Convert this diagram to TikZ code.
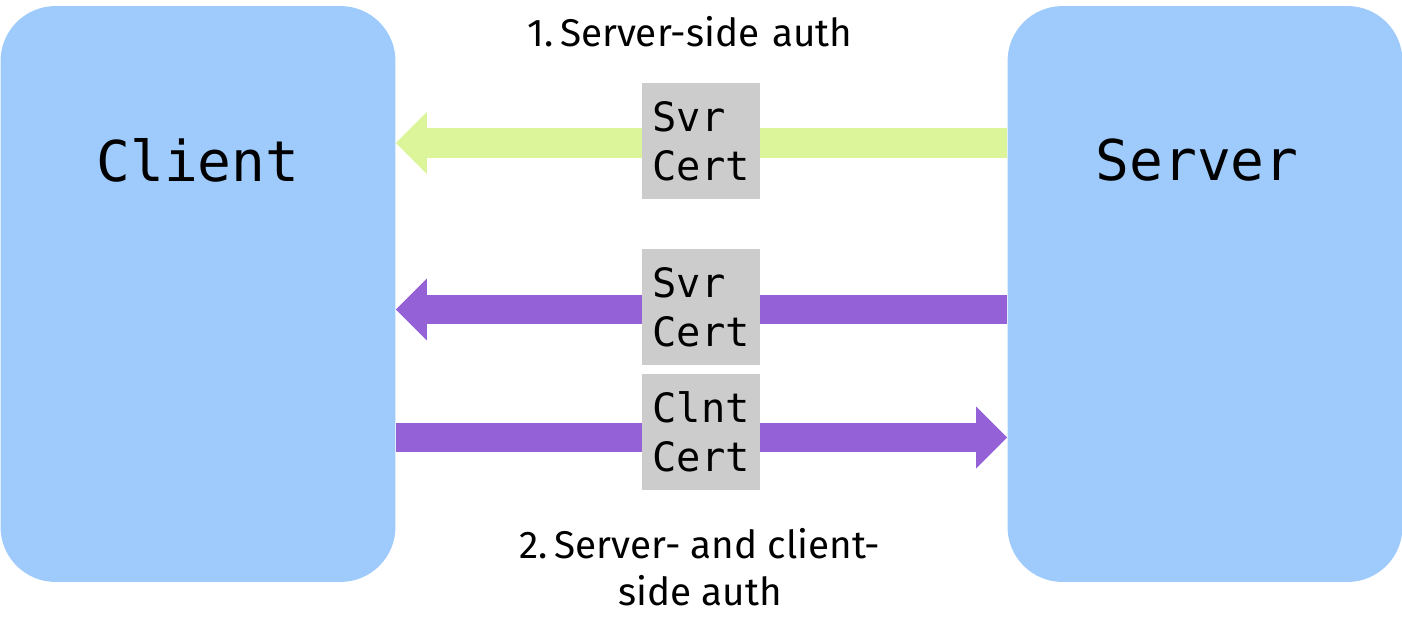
\documentclass[tikz,border=0pt]{standalone}
\usepackage{fontspec}
\setmainfont{Fira Sans}
\setmonofont{DejaVu Sans Mono}
\usetikzlibrary{positioning,arrows.meta,backgrounds}
\definecolor{hostblue}{HTML}{9ECBFB}
\definecolor{certgray}{HTML}{CCCCCC}
\definecolor{oneway}{HTML}{DCF59B}
\definecolor{twoway}{HTML}{9462D6}

\tikzset{
  host/.style={fill=hostblue, rounded corners=1.1cm, minimum width=7.9cm, minimum height=11.52cm},
  hostname/.style={font=\fontsize{32}{36}\selectfont\ttfamily},
  cert/.style={fill=certgray, minimum width=2.36cm, minimum height=2.34cm, align=left,
    inner sep=0pt, font=\fontsize{23}{28}\selectfont\ttfamily},
  msg/.style={line width=0.6cm, -{Triangle[length=0.62cm,width=1.24cm,line width=0pt]}},
  caption/.style={align=center, font=\fontsize{22}{27}\selectfont},
}

\begin{document}
\begin{tikzpicture}[x=0.02cm,y=-0.02cm]
    \useasboundingbox (0,0) rectangle (1402,638);
    \node[host] (client) at (198,294) {};
    \node[host] (server) at (1205,294) {};
    \node[hostname] (clientname) at (198,160) {Client};
    \node[hostname] (servername) at (1197,160) {Server};

    % certificates
    \node[cert] (svrone) at (701,141) {Svr\\Cert};
    \node[cert] (svrtwo) at (701,307) {Svr\\Cert};
    \node[cert] (clnttwo) at (701,432) {Clnt\\Cert};

    % messages
    \begin{scope}[on background layer]
    \draw[msg,oneway] ([yshift=-0.04cm]server.west |- svrone) -- ([yshift=-0.04cm]client.east |- svrone);
    \draw[msg,twoway] ([yshift=-0.05cm]server.west |- svrtwo) -- ([yshift=-0.05cm]client.east |- svrtwo);
    \draw[msg,twoway] ([yshift=-0.11cm]client.east |- clnttwo) -- ([yshift=-0.11cm]server.west |- clnttwo);
    \end{scope}

    \node[caption] (oneside) at (690,32) {1.\,Server-side\,\,auth};
    \node[caption] (bothsides) at (700,567) {2.\,Server- and client-\\side auth};
\end{tikzpicture}
\end{document}
